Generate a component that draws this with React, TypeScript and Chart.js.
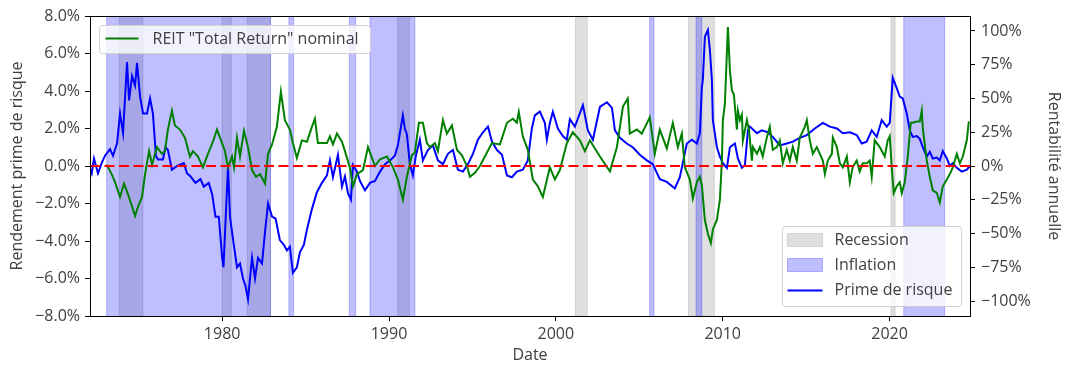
import React, { useEffect, useRef } from 'react';
import { Chart, registerables } from 'chart.js';

Chart.register(...registerables);

const FONT_FAMILY = '"Open Sans", sans-serif';
const FONT_SIZE = 16;
const TEXT_COLOR = '#404040';

// ---- axes ----
const X_MIN = 1972.08;
const X_MAX = 2024.82;
const X_TICKS = [1980, 1990, 2000, 2010, 2020];
const LEFT_MIN = -8;
const LEFT_MAX = 8;
const LEFT_TICKS = [-8, -6, -4, -2, 0, 2, 4, 6, 8];
const RIGHT_MIN = -111.1;
const RIGHT_MAX = 111.1;
const RIGHT_TICKS = [-100, -75, -50, -25, 0, 25, 50, 75, 100];
const ZERO_LEVEL = 0;

// ---- shaded periods ----
const recessionStarts = [1973.83, 1980.0, 1981.5, 1990.52, 2001.17, 2007.95, 2020.08];
const recessionEnds = [1975.25, 1980.55, 1982.9, 1991.22, 2001.88, 2009.5, 2020.33];
const inflationStarts = [1973.08, 1984.0, 1987.62, 1988.86, 2005.62, 2008.4, 2020.85];
const inflationEnds = [1982.9, 1984.28, 1988.0, 1991.55, 2005.88, 2008.75, 2023.3];

// ---- Prime de risque (left axis, %) ----
const premiumDates = [
  1972.08, 1972.18, 1972.32, 1972.56, 1972.8, 1972.98, 1973.28, 1973.46, 1973.7, 1973.88,
  1974.06, 1974.3, 1974.42, 1974.6, 1974.78, 1974.9, 1975.08, 1975.26, 1975.5, 1975.68,
  1975.85, 1976.03, 1976.15, 1976.45, 1976.6, 1976.75, 1976.99, 1977.3, 1977.7, 1977.9,
  1978.1, 1978.4, 1978.7, 1978.9, 1979.2, 1979.4, 1979.6, 1979.8, 1980.0, 1980.08,
  1980.2, 1980.35, 1980.47, 1980.65, 1980.89, 1981.07, 1981.25, 1981.4, 1981.55, 1981.79,
  1981.97, 1982.15, 1982.39, 1982.57, 1982.75, 1982.99, 1983.2, 1983.46, 1983.7, 1983.88,
  1984.06, 1984.24, 1984.48, 1984.66, 1984.9, 1985.08, 1985.38, 1985.68, 1985.98, 1986.28,
  1986.46, 1986.64, 1986.94, 1987.18, 1987.36, 1987.54, 1987.72, 1987.84, 1988.08, 1988.26,
  1988.56, 1988.86, 1989.16, 1989.46, 1989.76, 1990.06, 1990.35, 1990.53, 1990.83, 1990.95,
  1991.07, 1991.25, 1991.43, 1991.61, 1991.85, 1992.03, 1992.33, 1992.63, 1992.93, 1993.23,
  1993.53, 1993.83, 1994.13, 1994.43, 1994.73, 1995.03, 1995.33, 1995.63, 1995.93, 1996.17,
  1996.47, 1996.77, 1997.07, 1997.37, 1997.66, 1998.02, 1998.32, 1998.56, 1998.74, 1999.04,
  1999.34, 1999.46, 1999.64, 1999.82, 2000.12, 2000.42, 2000.66, 2000.84, 2001.14, 2001.62,
  2001.92, 2002.22, 2002.64, 2003.06, 2003.36, 2003.54, 2003.84, 2004.25, 2004.61, 2005.03,
  2005.45, 2005.81, 2006.23, 2006.65, 2007.13, 2007.43, 2007.85, 2008.15, 2008.45, 2008.63,
  2008.75, 2008.81, 2008.93, 2009.11, 2009.23, 2009.35, 2009.41, 2009.65, 2009.83, 2010.01,
  2010.25, 2010.43, 2010.73, 2010.91, 2011.15, 2011.33, 2011.51, 2011.63, 2012.05, 2012.34,
  2012.7, 2013.0, 2013.42, 2013.84, 2014.2, 2014.62, 2015.04, 2015.52, 2016.0, 2016.42,
  2016.84, 2017.2, 2017.62, 2018.03, 2018.33, 2018.63, 2018.93, 2019.23, 2019.53, 2019.83,
  2020.01, 2020.19, 2020.43, 2020.61, 2020.79, 2021.03, 2021.21, 2021.39, 2021.63, 2021.81,
  2021.99, 2022.23, 2022.41, 2022.59, 2022.83, 2023.01, 2023.19, 2023.43, 2023.61, 2023.79,
  2024.03, 2024.33, 2024.63, 2024.81,
];
const premiumValues = [
  -0.2, -0.4, 0.4, -0.4, 0.2, 0.55, 0.9, 0.55, 1.2, 2.8,
  1.75, 5.55, 3.5, 4.8, 4.3, 5.5, 3.7, 2.8, 2.8, 3.6,
  2.8, 0.55, 0.35, 0.35, 1.0, 0.85, -0.2, 0.0, 0.15, -0.4,
  -0.55, -0.9, -0.7, -1.1, -0.9, -1.5, -2.7, -2.7, -4.9, -5.4,
  -3.0, -0.05, -2.7, -3.9, -5.4, -5.2, -6.0, -6.4, -7.1, -4.9,
  -6.0, -4.9, -5.2, -3.5, -2.0, -2.7, -2.8, -3.95, -4.2, -4.5,
  -4.3, -5.7, -5.4, -4.6, -4.2, -3.4, -2.3, -1.4, -0.9, -0.5,
  0.3, -0.6, 0.6, -1.1, -0.55, -1.45, -1.8, 0.05, -0.3, -0.8,
  -1.3, -0.9, -0.8, -0.3, 0.1, 0.3, 0.55, 1.1, 2.7, 2.0,
  1.7, 0.1, -0.5, 0.55, 1.4, 0.3, 0.85, 1.1, 0.3, 0.1,
  0.65, 0.85, -0.2, -0.3, 0.1, 0.65, 1.4, 1.8, 2.1, 1.3,
  0.85, 0.6, -0.5, -0.6, -0.3, -0.2, 0.3, 2.0, 2.7, 2.9,
  2.3, 1.4, 2.3, 2.9, 2.0, 1.6, 1.4, 2.5, 2.1, 3.25,
  1.9, 1.4, 3.15, 3.4, 3.1, 1.9, 1.5, 1.2, 1.0, 0.6,
  0.3, 0.1, -0.7, -0.85, -1.2, -0.6, 1.2, 1.4, 1.2, 1.75,
  4.2, 4.6, 6.9, 7.25, 6.2, 4.6, 2.45, 1.0, 0.5, 0.15,
  -0.1, 1.0, 1.2, 0.4, -0.1, 0.05, 1.9, 2.1, 1.75, 1.9,
  1.8, 1.55, 1.1, 1.2, 1.3, 1.5, 1.65, 2.0, 2.3, 2.1,
  2.0, 1.75, 1.8, 1.65, 1.2, 1.3, 1.9, 1.55, 2.45, 2.1,
  2.3, 4.7, 4.15, 3.7, 3.6, 2.8, 1.9, 1.55, 1.6, 1.45,
  1.0, 0.5, 0.75, 0.4, 0.45, 0.3, 0.8, 0.4, 0.0, 0.15,
  -0.1, -0.3, -0.2, 0.0,
];

// ---- REIT "Total Return" nominal (right axis, %) ----
const reitDates = [
  1973.08, 1973.38, 1973.58, 1973.88, 1974.12, 1974.36, 1974.6, 1974.78, 1974.96, 1975.2,
  1975.38, 1975.62, 1975.8, 1976.09, 1976.39, 1976.57, 1976.75, 1976.99, 1977.17, 1977.47,
  1977.77, 1978.07, 1978.25, 1978.55, 1978.85, 1979.15, 1979.45, 1979.69, 1979.87, 1980.17,
  1980.35, 1980.59, 1980.71, 1980.89, 1981.07, 1981.31, 1981.55, 1981.79, 1982.03, 1982.27,
  1982.57, 1982.75, 1982.99, 1983.28, 1983.52, 1983.76, 1984.06, 1984.24, 1984.48, 1984.78,
  1985.08, 1985.38, 1985.56, 1985.74, 1986.28, 1986.46, 1986.64, 1986.88, 1987.18, 1987.36,
  1987.66, 1987.84, 1988.08, 1988.44, 1988.74, 1989.16, 1989.46, 1989.88, 1990.24, 1990.53,
  1990.83, 1991.07, 1991.37, 1991.55, 1991.79, 1992.03, 1992.27, 1992.45, 1992.75, 1992.93,
  1993.23, 1993.47, 1993.77, 1994.07, 1994.37, 1994.67, 1994.85, 1995.15, 1995.45, 1995.87,
  1996.17, 1996.65, 1997.07, 1997.42, 1997.66, 1997.78, 1998.02, 1998.32, 1998.62, 1998.92,
  1999.22, 1999.64, 1999.94, 2000.24, 2000.66, 2001.02, 2001.44, 2001.74, 2002.04, 2002.34,
  2002.64, 2003.24, 2003.66, 2004.02, 2004.31, 2004.43, 2004.85, 2005.15, 2005.63, 2005.93,
  2006.23, 2006.65, 2007.01, 2007.31, 2007.55, 2007.73, 2008.03, 2008.21, 2008.45, 2008.63,
  2008.75, 2008.93, 2009.11, 2009.29, 2009.41, 2009.65, 2009.83, 2009.95, 2010.01, 2010.13,
  2010.25, 2010.31, 2010.43, 2010.55, 2010.67, 2010.85, 2010.91, 2011.03, 2011.15, 2011.21,
  2011.45, 2011.57, 2011.75, 2011.81, 2012.05, 2012.23, 2012.4, 2012.64, 2012.82, 2013.0,
  2013.24, 2013.42, 2013.6, 2013.84, 2014.02, 2014.2, 2014.44, 2014.62, 2014.92, 2015.04,
  2015.22, 2015.4, 2015.64, 2015.82, 2016.0, 2016.12, 2016.3, 2016.54, 2016.6, 2016.84,
  2017.02, 2017.2, 2017.44, 2017.62, 2017.79, 2018.03, 2018.21, 2018.39, 2018.63, 2018.81,
  2018.93, 2019.11, 2019.41, 2019.71, 2019.89, 2020.01, 2020.13, 2020.25, 2020.43, 2020.61,
  2020.73, 2020.91, 2021.09, 2021.27, 2021.39, 2021.63, 2021.81, 2021.93, 2021.99, 2022.23,
  2022.41, 2022.59, 2022.83, 2023.01, 2023.19, 2023.43, 2023.61, 2023.79, 2024.03, 2024.21,
  2024.39, 2024.63, 2024.75,
];
const reitValues = [
  1, -6, -12, -23, -13, -21, -30, -37, -30, -23,
  -6, 11, 1, 14, 9, 11, 27, 41, 30, 27,
  21, 7, 11, 7, -1, 9, 18, 27, 21, 11,
  -1, 7, -1, 21, 7, 26, 14, -3, -8, -6,
  -13, 9, 16, 29, 55, 34, 27, 17, 6, 19,
  18, 29, 35, 17, 17, 22, 16, 24, 18, 11,
  -1.5, -15, -6, -3, 14, 0, 5, 7, -1, -10,
  -25, -8, 8, 10, 32, 32, 17, 14, 17, 11,
  34, 24, 30, 12, 8, 0, -8, -5, 0, 10,
  17, 16, 32, 35, 32, 40, 22, 12, -10, -15,
  -23, -1, -10, -3, 17, 25, 19, 11, 19, 13,
  7, -4, 14, 44, 50, 24, 27, 24, 36, 9,
  27, 13, 32, 14, 24, -1, -10, -24, -12, -8,
  -14, -40, -50, -57, -47, -40, -25, 4, 34, 46,
  84, 103, 71, 56, 53, 27, 41, 34, 38, 19,
  34, 27, 4, 14, 9, 14, 7, 21, 29, 12,
  14, 19, 2, 12, 4, 14, 4, 21, 29, 34,
  19, 9, 14, 9, 4, -6, 4, 9, 21, 14,
  2, -1, 7, -12, -1, 4, -4, 2, 2, 4,
  -8, 19, 14, 7, 19, 22, -1, -20, -15, -12,
  -20, -12, 7, 32, 32, 33, 33, 41, 28, 4,
  -8, -18, -20, -27, -15, -10, -6, -1, 9, 2,
  7, 19, 33,
];

const LABEL_REIT = 'REIT "Total Return" nominal';
const LABEL_RECESSION = 'Recession';
const LABEL_INFLATION = 'Inflation';
const LABEL_PREMIUM = 'Prime de risque';
const TITLE_X = 'Date';
const TITLE_LEFT = 'Rendement prime de risque';
const TITLE_RIGHT = 'Rentabilité annuelle';

const RECESSION_FILL = 'rgba(128,128,128,0.25)';
const INFLATION_FILL = 'rgba(0,0,255,0.25)';
const PREMIUM_COLOR = '#0000ff';
const REIT_COLOR = '#008000';
const ZERO_COLOR = '#ff0000';

const fmtMinus = (s: string) => s.replace('-', '\u2212');

const spansPlugin = {
  id: 'spans',
  beforeDatasetsDraw(chart: any) {
    const { ctx, chartArea: a, scales } = chart;
    const x = scales.x;
    ctx.save();
    ctx.beginPath();
    ctx.rect(a.left, a.top, a.right - a.left, a.bottom - a.top);
    ctx.clip();
    const draw = (starts: number[], ends: number[], fill: string) => {
      starts.forEach((s, i) => {
        const x0 = x.getPixelForValue(s);
        const x1 = x.getPixelForValue(ends[i]);
        ctx.fillStyle = fill;
        ctx.fillRect(x0, a.top, x1 - x0, a.bottom - a.top);
        ctx.strokeStyle = fill;
        ctx.lineWidth = 1;
        ctx.beginPath();
        ctx.moveTo(x0, a.top);
        ctx.lineTo(x0, a.bottom);
        ctx.moveTo(x1, a.top);
        ctx.lineTo(x1, a.bottom);
        ctx.stroke();
      });
    };
    draw(recessionStarts, recessionEnds, RECESSION_FILL);
    draw(inflationStarts, inflationEnds, INFLATION_FILL);
    ctx.restore();
  },
};

function legendBox(ctx: CanvasRenderingContext2D, x: number, y: number, w: number, h: number) {
  ctx.save();
  ctx.beginPath();
  if ((ctx as any).roundRect) (ctx as any).roundRect(x, y, w, h, 3);
  else ctx.rect(x, y, w, h);
  ctx.fillStyle = 'rgba(255,255,255,0.8)';
  ctx.fill();
  ctx.strokeStyle = '#d0d0d0';
  ctx.lineWidth = 1;
  ctx.stroke();
  ctx.restore();
}

const framePlugin = {
  id: 'frameAndLegends',
  afterDraw(chart: any) {
    const { ctx, chartArea: a } = chart;
    ctx.save();
    ctx.strokeStyle = '#000';
    ctx.lineWidth = 1;
    ctx.strokeRect(Math.round(a.left) + 0.5, Math.round(a.top) + 0.5,
      Math.round(a.right - a.left), Math.round(a.bottom - a.top));

    ctx.font = `${FONT_SIZE}px ${FONT_FAMILY}`;
    ctx.textBaseline = 'middle';
    ctx.textAlign = 'left';

    // legend 1 (top-left)
    const l1x = a.left + 9.5, l1y = a.top + 9.5;
    legendBox(ctx, l1x, l1y, 271, 28);
    ctx.strokeStyle = REIT_COLOR;
    ctx.lineWidth = 2;
    ctx.beginPath();
    ctx.moveTo(l1x + 6, l1y + 13);
    ctx.lineTo(l1x + 39, l1y + 13);
    ctx.stroke();
    ctx.fillStyle = TEXT_COLOR;
    ctx.fillText(LABEL_REIT, l1x + 53, l1y + 14);

    // legend 2 (bottom-right)
    const l2x = a.right - 187.5, l2y = a.bottom - 89.5;
    legendBox(ctx, l2x, l2y, 179, 80);
    const px = l2x + 5;
    ctx.fillStyle = RECESSION_FILL;
    ctx.fillRect(px, l2y + 7, 35, 13);
    ctx.strokeStyle = RECESSION_FILL;
    ctx.lineWidth = 1;
    ctx.strokeRect(px, l2y + 7, 35, 13);
    ctx.fillStyle = INFLATION_FILL;
    ctx.fillRect(px, l2y + 32, 35, 13);
    ctx.strokeStyle = INFLATION_FILL;
    ctx.strokeRect(px, l2y + 32, 35, 13);
    ctx.strokeStyle = PREMIUM_COLOR;
    ctx.lineWidth = 2;
    ctx.beginPath();
    ctx.moveTo(px, l2y + 64);
    ctx.lineTo(px + 35, l2y + 64);
    ctx.stroke();
    ctx.fillStyle = TEXT_COLOR;
    ctx.fillText(LABEL_RECESSION, l2x + 52, l2y + 14);
    ctx.fillText(LABEL_INFLATION, l2x + 52, l2y + 39);
    ctx.fillText(LABEL_PREMIUM, l2x + 52, l2y + 64);
    ctx.restore();
  },
};

const font = { family: FONT_FAMILY, size: FONT_SIZE };
const tickGrid = {
  display: true,
  drawOnChartArea: false,
  drawTicks: true,
  tickLength: 5,
  tickColor: '#000',
  tickWidth: 1,
};

export default function App() {
  const canvasRef = useRef<HTMLCanvasElement>(null);

  useEffect(() => {
    const premium = premiumDates.map((d, i) => ({ x: d, y: premiumValues[i] }));
    const reit = reitDates.map((d, i) => ({ x: d, y: reitValues[i] }));
    const zero = [{ x: X_MIN, y: ZERO_LEVEL }, { x: X_MAX, y: ZERO_LEVEL }];

    const chart = new Chart(canvasRef.current as HTMLCanvasElement, {
      type: 'line',
      data: {
        datasets: [
          {
            label: 'zero', data: zero, yAxisID: 'y', borderColor: ZERO_COLOR, borderWidth: 2,
            borderDash: [10, 4.5], pointRadius: 0, order: 0,
          },
          {
            label: LABEL_REIT, data: reit, yAxisID: 'y1', borderColor: REIT_COLOR, borderWidth: 2,
            pointRadius: 0, tension: 0, order: 1,
          },
          {
            label: LABEL_PREMIUM, data: premium, yAxisID: 'y', borderColor: PREMIUM_COLOR, borderWidth: 2,
            pointRadius: 0, tension: 0, order: 2,
          },
        ],
      },
      options: {
        animation: false,
        responsive: true,
        maintainAspectRatio: false,
        events: [],
        layout: { padding: { top: 16, left: 0, right: 0, bottom: 0 } },
        plugins: { legend: { display: false }, tooltip: { enabled: false } },
        scales: {
          x: {
            type: 'linear', position: 'bottom', min: X_MIN, max: X_MAX,
            afterBuildTicks: (s: any) => { s.ticks = X_TICKS.map((v) => ({ value: v })); },
            afterFit: (s: any) => { s.height = 59; },
            ticks: { callback: (v: any) => String(v), font, color: TEXT_COLOR, padding: 4, maxRotation: 0, autoSkip: false },
            grid: tickGrid,
            border: { display: false },
            title: { display: true, text: TITLE_X, font, color: TEXT_COLOR, padding: { top: 0, bottom: 10 } },
          },
          y: {
            type: 'linear', position: 'left', min: LEFT_MIN, max: LEFT_MAX,
            afterBuildTicks: (s: any) => { s.ticks = LEFT_TICKS.map((v) => ({ value: v })); },
            afterFit: (s: any) => { s.width = 90; },
            ticks: { callback: (v: any) => fmtMinus(Number(v).toFixed(1) + '%'), font, color: TEXT_COLOR, padding: 5, autoSkip: false },
            grid: tickGrid,
            border: { display: false },
            title: { display: true, text: TITLE_LEFT, font, color: TEXT_COLOR, padding: { top: 8, bottom: 0 } },
          },
          y1: {
            type: 'linear', position: 'right', min: RIGHT_MIN, max: RIGHT_MAX,
            afterBuildTicks: (s: any) => { s.ticks = RIGHT_TICKS.map((v) => ({ value: v })); },
            afterFit: (s: any) => { s.width = 100; },
            ticks: { callback: (v: any) => fmtMinus(String(v) + '%'), font, color: TEXT_COLOR, padding: 6, autoSkip: false },
            grid: tickGrid,
            border: { display: false },
            title: { display: true, text: TITLE_RIGHT, font, color: TEXT_COLOR, padding: { top: 7, bottom: 0 } },
          },
        },
      } as any,
      plugins: [spansPlugin, framePlugin],
    });
    return () => chart.destroy();
  }, []);

  return (
    <div style={{ position: 'absolute', left: 0, top: 0, width: 1070, height: 375, background: '#fff' }}>
      <canvas ref={canvasRef} />
    </div>
  );
}
